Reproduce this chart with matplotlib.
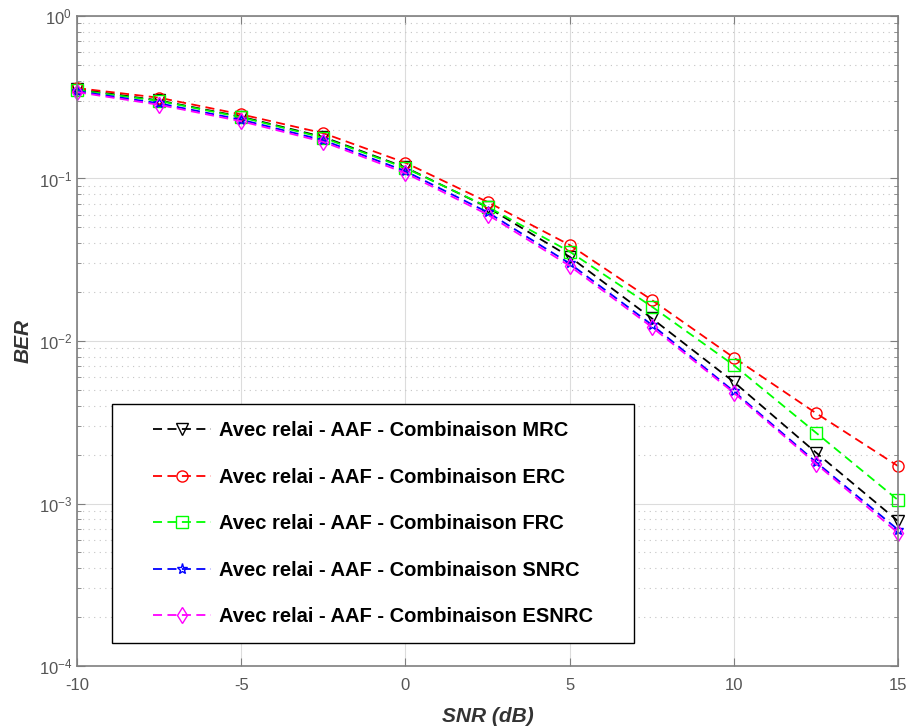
import matplotlib
matplotlib.use('Agg')
import matplotlib.pyplot as plt
from matplotlib.patches import Rectangle
from matplotlib.ticker import LogLocator, NullFormatter

plt.rcParams['font.family'] = ['Liberation Sans', 'DejaVu Sans']
plt.rcParams['axes.unicode_minus'] = False

# SNR axis and simulated bit error rates for each combining scheme
snr = [-10, -7.5, -5, -2.5, 0, 2.5, 5, 7.5, 10, 12.5, 15]
berMRC = [0.355, 0.302, 0.240, 0.180, 0.117, 0.0665, 0.0330, 0.0138, 0.0056, 0.00206, 0.00078]
berERC = [0.360, 0.314, 0.248, 0.190, 0.125, 0.0717, 0.0390, 0.0179, 0.0079, 0.00360, 0.00170]
berFRC = [0.350, 0.300, 0.238, 0.178, 0.116, 0.0670, 0.0355, 0.0163, 0.0071, 0.00273, 0.00105]
berSNRC = [0.345, 0.290, 0.230, 0.172, 0.111, 0.0620, 0.0300, 0.0126, 0.0049, 0.00180, 0.00069]
berESNRC = [0.340, 0.284, 0.225, 0.168, 0.108, 0.0600, 0.0290, 0.0122, 0.0048, 0.00176, 0.00066]

labels = ['Avec relai - AAF - Combinaison MRC',
          'Avec relai - AAF - Combinaison ERC',
          'Avec relai - AAF - Combinaison FRC',
          'Avec relai - AAF - Combinaison SNRC',
          'Avec relai - AAF - Combinaison ESNRC']
curves = [berMRC, berERC, berFRC, berSNRC, berESNRC]
colors = ['black', 'red', '#00ff00', 'blue', 'magenta']
markers = ['v', 'o', 's', '*', 'd']


fig = plt.figure(figsize=(9.08, 7.26), dpi=100)
ax = fig.add_axes([0.0848, 0.0826, 0.9042, 0.8954])

for ber, col, mk, lab in zip(curves, colors, markers, labels):
    ax.semilogy(snr, ber, color=col, marker=mk, markersize=8, markerfacecolor='none',
                markeredgewidth=1.0, linewidth=1.3, dashes=[5, 3], label=lab, clip_on=False)

ax.set_xlim(-10, 15)
ax.set_ylim(1e-4, 1)
ax.set_xticks([-10, -5, 0, 5, 10, 15])
ax.yaxis.set_minor_locator(LogLocator(base=10, subs=range(2, 10), numticks=20))
ax.yaxis.set_minor_formatter(NullFormatter())

ax.grid(True, which='major', color='#dcdcdc', linestyle='-', linewidth=0.8)
ax.grid(True, which='minor', axis='y', color='#c4c4c4', linestyle=(0, (1, 4)), linewidth=0.8)
ax.set_axisbelow(True)

for sp in ax.spines.values():
    sp.set_color('#7f7f7f')
    sp.set_linewidth(1.2)
ax.tick_params(which='both', direction='in', top=True, right=True, colors='#7f7f7f',
               labelcolor='#555555', labelsize=12)
ax.tick_params(which='major', length=6)
ax.tick_params(which='minor', length=3)
ax.tick_params(axis='x', pad=8.5)

ax.set_xlabel('SNR (dB)', fontsize=15, fontweight='bold', fontstyle='italic', color='#333333',
              labelpad=10)
ax.set_ylabel('BER', fontsize=15, fontweight='bold', fontstyle='italic', color='#333333')

# legend box drawn separately so the padding can be wider than tall
ax.add_patch(Rectangle((0.0426, 0.0354), 0.6357, 0.3677, transform=ax.transAxes,
                       facecolor='white', edgecolor='black', linewidth=1.0, zorder=5))
leg = ax.legend(loc='center', bbox_to_anchor=(0.3605, 0.219), frameon=False,
                prop={'size': 14.5, 'weight': 'bold'}, handlelength=2.9, handletextpad=0.4,
                labelspacing=1.36)
leg.set_zorder(6)

fig.savefig('out.png', dpi=100)
